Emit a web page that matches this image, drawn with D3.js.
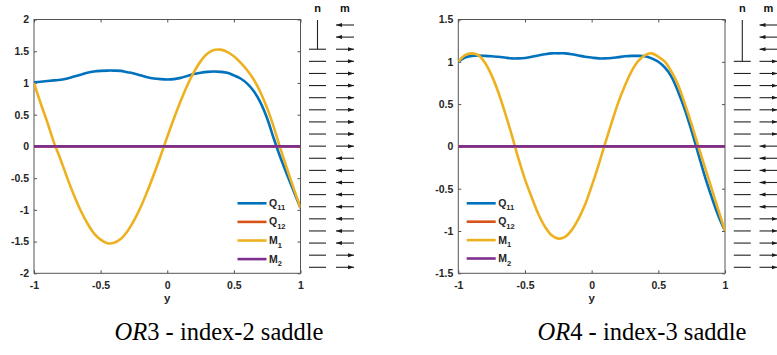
<!DOCTYPE html>
<html>
<head>
<meta charset="utf-8">
<script src="https://cdn.jsdelivr.net/npm/d3@7"></script>
<style>
  html, body { margin: 0; padding: 0; background: #fff; }
  svg { display: block; }
</style>
</head>
<body>
<script>
// ---------------- DATA ----------------
const yGrid = [-1,-0.95,-0.9,-0.85,-0.8,-0.75,-0.7,-0.65,-0.6,-0.55,-0.5,-0.45,-0.4,-0.35,-0.3,-0.25,-0.2,-0.15,-0.1,-0.05,0,0.05,0.1,0.15,0.2,0.25,0.3,0.35,0.4,0.45,0.5,0.55,0.6,0.65,0.7,0.75,0.8,0.85,0.9,0.95,1];

// OR3 - index-2 saddle
const or3Q11 = [1.01,1.02,1.03,1.04,1.05,1.07,1.10,1.13,1.16,1.18,1.19,1.195,1.195,1.19,1.17,1.15,1.12,1.09,1.07,1.06,1.055,1.06,1.08,1.11,1.14,1.16,1.175,1.18,1.175,1.16,1.12,1.07,0.99,0.87,0.69,0.44,0.12,-0.18,-0.45,-0.71,-0.97];
const or3M1  = [1.00,0.68,0.38,0.06,-0.21,-0.50,-0.77,-1.01,-1.21,-1.37,-1.47,-1.525,-1.52,-1.46,-1.34,-1.17,-0.96,-0.71,-0.44,-0.15,0.15,0.44,0.71,0.96,1.17,1.34,1.46,1.52,1.525,1.49,1.42,1.32,1.20,1.05,0.85,0.60,0.30,-0.04,-0.36,-0.67,-0.97];
const or3ZeroY = [-1, 1];
const or3Q12 = [0, 0];
const or3M2  = [0, 0];

// OR4 - index-3 saddle
const or4Q11 = [1.00,1.05,1.07,1.075,1.07,1.065,1.06,1.05,1.04,1.04,1.045,1.06,1.075,1.09,1.10,1.10,1.10,1.09,1.075,1.06,1.05,1.04,1.04,1.045,1.055,1.065,1.07,1.07,1.065,1.04,1.00,0.93,0.82,0.64,0.43,0.18,-0.09,-0.36,-0.60,-0.82,-1.00];
const or4M1  = [1.00,1.08,1.10,1.08,0.99,0.84,0.64,0.40,0.14,-0.14,-0.39,-0.60,-0.80,-0.95,-1.05,-1.09,-1.07,-0.99,-0.86,-0.69,-0.47,-0.23,0.03,0.28,0.52,0.72,0.89,1.01,1.08,1.10,1.06,1.00,0.88,0.72,0.50,0.26,0.00,-0.25,-0.50,-0.75,-1.00];
const or4ZeroY = [-1, 1];
const or4Q12 = [0, 0];
const or4M2  = [0, 0];

// tick values / labels
const xTicks = [-1, -0.5, 0, 0.5, 1];
const or3YTicks = [-2, -1.5, -1, -0.5, 0, 0.5, 1, 1.5, 2];
const or4YTicks = [-1.5, -1, -0.5, 0, 0.5, 1, 1.5];

// legend
const seriesNames = ["Q", "Q", "M", "M"];
const seriesSubs  = ["11", "12", "1", "2"];
const seriesColors = ["#0072BD", "#D95319", "#EDB120", "#7E2F8E"];

// n / m director columns: n: "v" vertical, "h" horizontal; m: -1 left arrow, 1 right arrow
const or3N = ["v","v","h","h","h","h","h","h","h","h","h","h","h","h","h","h","h","h","h","h","h"];
const or3M = [-1,-1,1,1,1,1,1,1,1,1,1,-1,-1,-1,-1,-1,-1,-1,-1,1,1];
const or4N = ["v","v","v","h","h","h","h","h","h","h","h","h","h","h","h","h","h","h","h","h","h"];
const or4M = [-1,-1,-1,1,1,1,1,1,1,1,-1,-1,-1,-1,-1,-1,1,1,1,1,1];

const titles = [["OR", "3 - index-2 saddle"], ["OR", "4 - index-3 saddle"]];

// ---------------- DRAW ----------------
const W = 777, H = 355;
const svg = d3.select("body").append("svg").attr("width", W).attr("height", H);
svg.append("rect").attr("width", W).attr("height", H).attr("fill", "#fff");

const defs = svg.append("defs");
defs.append("marker").attr("id", "arr")
  .attr("markerUnits", "userSpaceOnUse")
  .attr("viewBox", "0 0 6 5").attr("refX", 6).attr("refY", 2.5)
  .attr("markerWidth", 6).attr("markerHeight", 5).attr("orient", "auto")
  .append("path").attr("d", "M0,0.5 L6,2.5 L0,4.5 Z").attr("fill", "#1a1a1a");

const axisColor = "#262626";
const sansFont = "'Liberation Sans', Arial, Helvetica, sans-serif";

function panel(cfg) {
  const g = svg.append("g");
  const x = d3.scaleLinear().domain([-1, 1]).range([cfg.left, cfg.right]);
  const y = d3.scaleLinear().domain(cfg.yDomain).range([cfg.bottom, cfg.top]);

  const clipId = "clip" + cfg.id;
  defs.append("clipPath").attr("id", clipId).append("rect")
    .attr("x", cfg.left).attr("y", cfg.top)
    .attr("width", cfg.right - cfg.left).attr("height", cfg.bottom - cfg.top);

  const styleAxis = sel => {
    sel.select(".domain").remove();
    sel.selectAll(".tick line").attr("stroke", axisColor).attr("stroke-width", 0.8);
    sel.selectAll(".tick text").attr("fill", axisColor)
      .attr("font-family", sansFont).attr("font-weight", "bold").attr("font-size", 10.5);
  };
  const fmt = d => String(d);

  g.append("g").attr("transform", `translate(0,${cfg.bottom})`)
    .call(d3.axisBottom(x).tickValues(xTicks).tickFormat(fmt).tickSizeInner(-3).tickSizeOuter(0).tickPadding(8))
    .call(styleAxis);
  g.append("g").attr("transform", `translate(0,${cfg.top})`)
    .call(d3.axisTop(x).tickValues(xTicks).tickFormat("").tickSizeInner(-3).tickSizeOuter(0))
    .call(styleAxis);
  g.append("g").attr("transform", `translate(${cfg.left},0)`)
    .call(d3.axisLeft(y).tickValues(cfg.yTicks).tickFormat(fmt).tickSizeInner(-3).tickSizeOuter(0).tickPadding(5))
    .call(styleAxis);
  g.append("g").attr("transform", `translate(${cfg.right},0)`)
    .call(d3.axisRight(y).tickValues(cfg.yTicks).tickFormat("").tickSizeInner(-3).tickSizeOuter(0))
    .call(styleAxis);

  g.append("rect").attr("x", cfg.left).attr("y", cfg.top)
    .attr("width", cfg.right - cfg.left).attr("height", cfg.bottom - cfg.top)
    .attr("fill", "none").attr("stroke", "#555").attr("stroke-width", 1);

  g.append("text").attr("x", (cfg.left + cfg.right) / 2).attr("y", cfg.bottom + 28.5)
    .attr("text-anchor", "middle").attr("font-family", sansFont)
    .attr("font-weight", "bold").attr("font-size", 11.5).attr("fill", axisColor).text("y");

  const line = d3.line().x(d => x(d[0])).y(d => y(d[1])).curve(d3.curveCatmullRom.alpha(0.5));
  const lines = g.append("g").attr("clip-path", `url(#${clipId})`);
  const series = [
    { xs: yGrid, vs: cfg.q11 },
    { xs: cfg.zeroY, vs: cfg.q12 },
    { xs: yGrid, vs: cfg.m1 },
    { xs: cfg.zeroY, vs: cfg.m2 }
  ];
  series.forEach((s, i) => {
    lines.append("path").datum(s.xs.map((v, k) => [v, s.vs[k]]))
      .attr("d", line).attr("fill", "none")
      .attr("stroke", seriesColors[i]).attr("stroke-width", 2.6)
      .attr("stroke-linejoin", "round").attr("stroke-linecap", "butt");
  });

  const lg = g.append("g");
  seriesNames.forEach((nm, i) => {
    const yy = cfg.legendY + i * cfg.legendDy;
    lg.append("line").attr("x1", cfg.legendX).attr("x2", cfg.legendX + 29)
      .attr("y1", yy).attr("y2", yy).attr("stroke", seriesColors[i]).attr("stroke-width", 2.6);
    const t = lg.append("text").attr("x", cfg.legendX + 31.5).attr("y", yy + 3.5)
      .attr("font-family", sansFont).attr("font-weight", "bold").attr("font-size", 10.5).attr("fill", axisColor);
    t.append("tspan").text(nm);
    t.append("tspan").attr("dy", 3.5).attr("font-size", 7.5).text(seriesSubs[i]);
  });

  const row = d3.scaleLinear().domain([0, 20]).range([25, 267.3]);
  const cols = g.append("g");
  cols.append("text").attr("x", cfg.nX).attr("y", 12).attr("text-anchor", "middle")
    .attr("font-family", sansFont).attr("font-weight", "bold").attr("font-size", 11).attr("fill", "#111").text("n");
  cols.append("text").attr("x", cfg.mX).attr("y", 12).attr("text-anchor", "middle")
    .attr("font-family", sansFont).attr("font-weight", "bold").attr("font-size", 11).attr("fill", "#111").text("m");
  const firstH = cfg.n.indexOf("h");
  cols.append("line").attr("x1", cfg.nX).attr("x2", cfg.nX)
    .attr("y1", row(0) - 5).attr("y2", row(firstH))
    .attr("stroke", "#222").attr("stroke-width", 1.1);
  cfg.n.forEach((d, i) => {
    if (d === "h") {
      cols.append("line").attr("x1", cfg.nX - 8.5).attr("x2", cfg.nX + 8.5)
        .attr("y1", row(i)).attr("y2", row(i)).attr("stroke", "#222").attr("stroke-width", 1.1);
    }
  });
  cfg.m.forEach((d, i) => {
    const a = cfg.mX - 9, b = cfg.mX + 9;
    cols.append("line")
      .attr("x1", d > 0 ? a : b).attr("x2", d > 0 ? b : a)
      .attr("y1", row(i)).attr("y2", row(i))
      .attr("stroke", "#222").attr("stroke-width", 1.1).attr("marker-end", "url(#arr)");
  });

  const tt = g.append("text").attr("x", cfg.titleX).attr("y", 340).attr("text-anchor", "middle")
    .attr("font-family", "'Liberation Serif', 'Times New Roman', serif").attr("font-size", 24.5).attr("fill", "#000");
  tt.append("tspan").attr("font-style", "italic").text(cfg.title[0]);
  tt.append("tspan").text(cfg.title[1]);
}

panel({
  id: 3, left: 34, right: 300.5, top: 19.5, bottom: 273.3, yDomain: [-2, 2], yTicks: or3YTicks,
  q11: or3Q11, q12: or3Q12, m1: or3M1, m2: or3M2, zeroY: or3ZeroY,
  legendX: 237.5, legendY: 203.3, legendDy: 18.6,
  nX: 317.5, mX: 345, n: or3N, m: or3M, titleX: 219, title: titles[0]
});
panel({
  id: 4, left: 458.3, right: 725, top: 19.5, bottom: 273.3, yDomain: [-1.5, 1.5], yTicks: or4YTicks,
  q11: or4Q11, q12: or4Q12, m1: or4M1, m2: or4M2, zeroY: or4ZeroY,
  legendX: 466.7, legendY: 203.3, legendDy: 18.4,
  nX: 742.3, mX: 768.5, n: or4N, m: or4M, titleX: 642, title: titles[1]
});
</script>
</body>
</html>
